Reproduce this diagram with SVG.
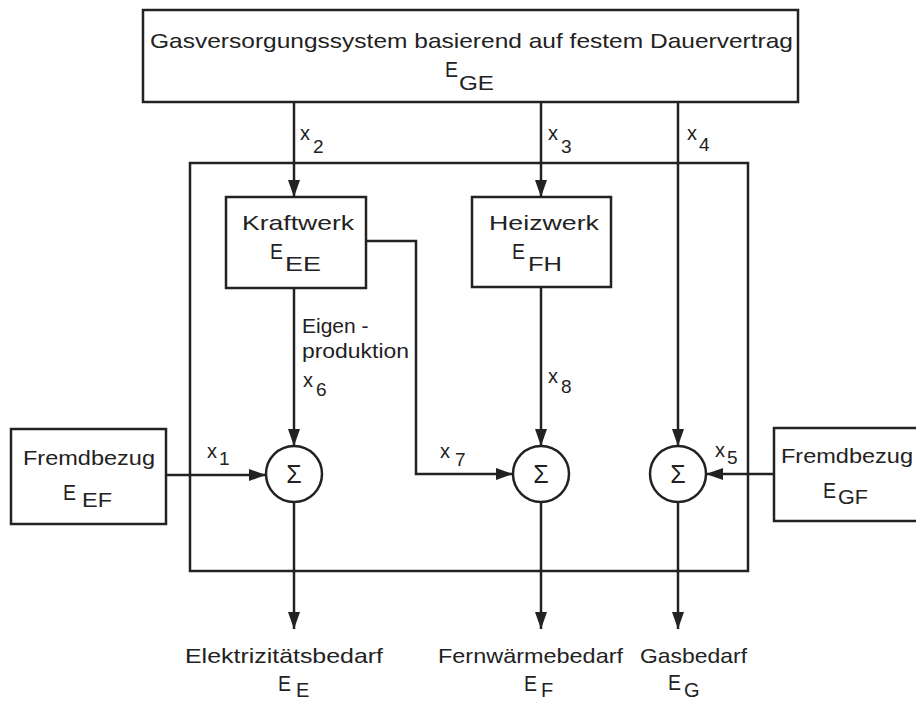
<svg xmlns="http://www.w3.org/2000/svg" width="916" height="702" viewBox="0 0 916 702">
<defs>
<style>
.bx{fill:none;stroke:#222;stroke-width:2.5}
.ln{fill:none;stroke:#222;stroke-width:2.5}
.ar{marker-end:url(#ah)}
text{font-family:"Liberation Sans",Arial,sans-serif;font-size:21px;fill:#222}
.e{font-size:22px}
.sub{font-size:20px}
.lx{font-size:20px}
.ld{font-size:19px}
.sig{font-size:25px;text-anchor:middle}
</style>
<marker id="ah" markerWidth="18" markerHeight="12" refX="17" refY="6" orient="auto" markerUnits="userSpaceOnUse">
<path d="M0,0 L17,6 L0,12 Z" fill="#222"/>
</marker>
</defs>
<rect width="916" height="702" fill="#fff"/>

<g id="system-boundary">
<rect class="bx" x="190" y="163" width="558" height="408"/>
</g>

<g id="gas-supply">
<rect class="bx" x="143" y="10" width="655" height="92"/>
<text x="150" y="48" textLength="643" lengthAdjust="spacingAndGlyphs">Gasversorgungssystem basierend auf festem Dauervertrag</text>
<text class="e" x="445" y="77" textLength="13" lengthAdjust="spacingAndGlyphs">E</text><text class="sub" x="459" y="90" textLength="35" lengthAdjust="spacingAndGlyphs">GE</text>
</g>

<g id="kraftwerk">
<rect class="bx" x="226" y="197" width="140" height="91"/>
<text x="242" y="230" textLength="112" lengthAdjust="spacingAndGlyphs">Kraftwerk</text>
<text class="e" x="270" y="259" textLength="13" lengthAdjust="spacingAndGlyphs">E</text><text class="sub" x="285" y="271" textLength="36" lengthAdjust="spacingAndGlyphs">EE</text>
</g>

<g id="heizwerk">
<rect class="bx" x="472" y="197" width="139" height="90"/>
<text x="489" y="230" textLength="110" lengthAdjust="spacingAndGlyphs">Heizwerk</text>
<text class="e" x="512" y="259" textLength="13" lengthAdjust="spacingAndGlyphs">E</text><text class="sub" x="528" y="271" textLength="34" lengthAdjust="spacingAndGlyphs">FH</text>
</g>

<g id="fremdbezug-e">
<rect class="bx" x="11" y="429" width="155" height="95"/>
<text x="23" y="465" textLength="132" lengthAdjust="spacingAndGlyphs">Fremdbezug</text>
<text class="e" x="63" y="500" textLength="13" lengthAdjust="spacingAndGlyphs">E</text><text class="sub" x="82" y="507" textLength="30" lengthAdjust="spacingAndGlyphs">EF</text>
</g>

<g id="fremdbezug-g">
<rect class="bx" x="774" y="428" width="156" height="93"/>
<text x="781" y="463" textLength="132" lengthAdjust="spacingAndGlyphs">Fremdbezug</text>
<text class="e" x="823" y="498" textLength="13" lengthAdjust="spacingAndGlyphs">E</text><text class="sub" x="838" y="504" textLength="30" lengthAdjust="spacingAndGlyphs">GF</text>
</g>

<g id="sum-e">
<circle class="bx" cx="294" cy="474" r="28"/>
<text class="sig" x="294" y="483">Σ</text>
</g>
<g id="sum-f">
<circle class="bx" cx="541" cy="474" r="28"/>
<text class="sig" x="541" y="483">Σ</text>
</g>
<g id="sum-g">
<circle class="bx" cx="678" cy="474" r="28"/>
<text class="sig" x="678" y="483">Σ</text>
</g>

<g id="connectors">
<path class="ln ar" d="M294,102 V197"/>
<path class="ln ar" d="M541,102 V197"/>
<path class="ln ar" d="M678,102 V446"/>
<path class="ln ar" d="M294,288 V446"/>
<path class="ln ar" d="M541,287 V446"/>
<path class="ln ar" d="M366,241 H416 V474 H513"/>
<path class="ln ar" d="M166,475 H266"/>
<path class="ln ar" d="M774,474 H706"/>
<path class="ln ar" d="M294,502 V629"/>
<path class="ln ar" d="M541,502 V629"/>
<path class="ln ar" d="M678,502 V629"/>
</g>

<g id="flow-labels">
<text class="lx" x="300" y="140">x</text><text class="ld" x="313" y="153">2</text>
<text class="lx" x="548" y="140">x</text><text class="ld" x="561" y="153">3</text>
<text class="lx" x="687" y="140">x</text><text class="ld" x="699" y="151">4</text>
<text class="lx" x="207" y="458">x</text><text class="ld" x="219" y="465">1</text>
<text class="lx" x="715" y="457">x</text><text class="ld" x="727" y="464">5</text>
<text x="302" y="333">Eigen -</text>
<text x="302" y="358" textLength="107" lengthAdjust="spacingAndGlyphs">produktion</text>
<text class="lx" x="303" y="387">x</text><text class="ld" x="316" y="396">6</text>
<text class="lx" x="440" y="458">x</text><text class="ld" x="455" y="466">7</text>
<text class="lx" x="548" y="383">x</text><text class="ld" x="561" y="393">8</text>
</g>

<g id="demand-labels">
<text x="185" y="663" textLength="198" lengthAdjust="spacingAndGlyphs">Elektrizitätsbedarf</text>
<text class="e" x="278" y="691" textLength="13" lengthAdjust="spacingAndGlyphs">E</text><text class="sub" x="296" y="697">E</text>
<text x="438" y="663" textLength="185" lengthAdjust="spacingAndGlyphs">Fernwärmebedarf</text>
<text class="e" x="524" y="691" textLength="13" lengthAdjust="spacingAndGlyphs">E</text><text class="sub" x="541" y="697">F</text>
<text x="640" y="663" textLength="107" lengthAdjust="spacingAndGlyphs">Gasbedarf</text>
<text class="e" x="668" y="690" textLength="13" lengthAdjust="spacingAndGlyphs">E</text><text class="sub" x="684" y="697">G</text>
</g>
</svg>
